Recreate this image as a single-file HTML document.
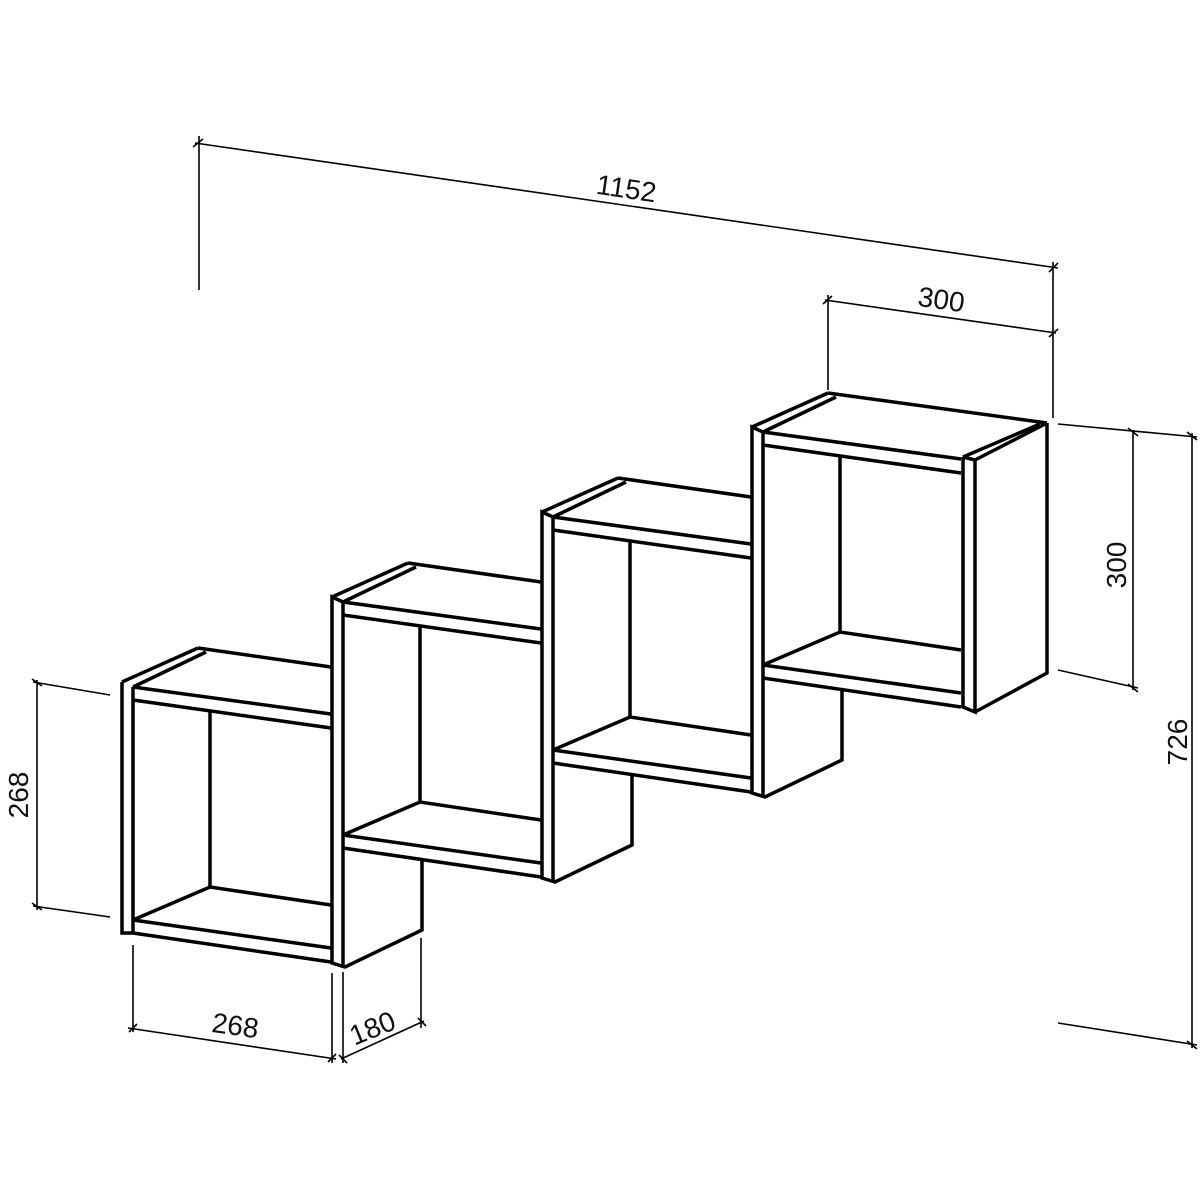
<!DOCTYPE html>
<html><head><meta charset="utf-8"><style>
html,body{margin:0;padding:0;background:#fff;}
svg{display:block;}
text{font-family:"Liberation Sans Narrow","Liberation Sans",sans-serif;font-size:28px;fill:#111;}
</style></head><body>
<svg width="1200" height="1200" viewBox="0 0 1200 1200" xmlns="http://www.w3.org/2000/svg">
<defs>
<g id="boxbase" fill="none" stroke="#000" stroke-width="3.5" stroke-linejoin="miter">
  <!-- top -->
  <line x1="122" y1="682" x2="198" y2="648"/>
  <line x1="133" y1="687" x2="206" y2="652"/>
  <line x1="133" y1="687" x2="331" y2="714"/>
  <line x1="133" y1="700" x2="331" y2="728"/>
  <!-- back vertical -->
  <line x1="210" y1="711" x2="210" y2="888"/>
  <!-- floor -->
  <polyline points="133,920 210,887 331,905"/>
  <line x1="133" y1="920" x2="331" y2="948"/>
  <line x1="133" y1="933" x2="331" y2="962"/>
</g>
</defs>

<!-- box 1 -->
<g fill="none" stroke="#000" stroke-width="3.5">
  <use href="#boxbase"/>
  <line x1="198" y1="648" x2="331" y2="667"/>
  <polyline points="122,682 122,933 133,933 133,687"/>
</g>
<!-- box 2 -->
<g transform="translate(210,-85)" fill="none" stroke="#000" stroke-width="3.5">
  <use href="#boxbase"/>
  <line x1="198" y1="648" x2="331" y2="667"/>
  <polyline points="133,687 122,682 122,1048 135,1052 212,1015 212,945"/>
  <line x1="133" y1="687" x2="133" y2="1052"/>
</g>
<!-- box 3 -->
<g transform="translate(420,-170)" fill="none" stroke="#000" stroke-width="3.5">
  <use href="#boxbase"/>
  <line x1="198" y1="648" x2="331" y2="667"/>
  <polyline points="133,687 122,682 122,1048 135,1052 212,1015 212,945"/>
  <line x1="133" y1="687" x2="133" y2="1052"/>
</g>
<!-- box 4 -->
<g transform="translate(630,-255)" fill="none" stroke="#000" stroke-width="3.5">
  <use href="#boxbase"/>
  <line x1="198" y1="648" x2="417" y2="678"/>
  <polyline points="133,687 122,682 122,1048 135,1052 212,1015 212,945"/>
  <line x1="133" y1="687" x2="133" y2="1052"/>
  <!-- right front panel and side -->
  <polyline points="333,712 333,962 345,967 345,715 333,712"/>
  <line x1="333" y1="712" x2="410" y2="679"/>
  <line x1="345" y1="715" x2="417" y2="678"/>
  <polyline points="345,967 417,928 417,678"/>
</g>

<!-- dimensions -->
<g stroke="#000" stroke-width="1.6" fill="none">
  <!-- 1152 -->
  <line x1="199" y1="136" x2="199" y2="290"/>
  <line x1="1053" y1="262" x2="1053" y2="418"/>
  <line x1="195" y1="143" x2="1058" y2="268"/>
  <line x1="193" y1="147" x2="203" y2="139"/>
  <line x1="1049" y1="272" x2="1058" y2="263"/>
  <!-- 300 top -->
  <line x1="828" y1="295" x2="828" y2="390"/>
  <line x1="825" y1="300" x2="1056" y2="333"/>
  <line x1="823" y1="304" x2="832" y2="296"/>
  <line x1="1049" y1="337" x2="1058" y2="329"/>
  <!-- right 300 & 726 -->
  <line x1="1058" y1="424" x2="1197" y2="437"/>
  <line x1="1058" y1="670" x2="1138" y2="688"/>
  <line x1="1058" y1="1023" x2="1197" y2="1045"/>
  <line x1="1133" y1="430" x2="1133" y2="690"/>
  <line x1="1192" y1="433" x2="1192" y2="1048"/>
  <line x1="1128" y1="428" x2="1138" y2="436"/>
  <line x1="1128" y1="684" x2="1138" y2="692"/>
  <line x1="1187" y1="432" x2="1197" y2="440"/>
  <line x1="1187" y1="1041" x2="1197" y2="1049"/>
  <!-- left 268 -->
  <line x1="33" y1="682" x2="110" y2="695"/>
  <line x1="33" y1="906" x2="110" y2="917"/>
  <line x1="37" y1="680" x2="37" y2="910"/>
  <line x1="32" y1="679" x2="42" y2="686"/>
  <line x1="32" y1="903" x2="42" y2="910"/>
  <!-- bottom 268 -->
  <line x1="133" y1="945" x2="133" y2="1032"/>
  <line x1="332" y1="973" x2="332" y2="1063"/>
  <line x1="128" y1="1028" x2="336" y2="1059"/>
  <line x1="129" y1="1032" x2="137" y2="1024"/>
  <line x1="328" y1="1062" x2="336" y2="1054"/>
  <!-- 180 -->
  <line x1="343" y1="972" x2="343" y2="1063"/>
  <line x1="421" y1="938" x2="421" y2="1028"/>
  <line x1="341" y1="1059" x2="424" y2="1021"/>
  <line x1="339" y1="1055" x2="347" y2="1063"/>
  <line x1="418" y1="1018" x2="426" y2="1026"/>
</g>

<g text-anchor="middle">
  <text transform="translate(625,198) rotate(8.3)">1152</text>
  <text transform="translate(940,309) rotate(8)">300</text>
  <text transform="translate(1126,565) rotate(-90)">300</text>
  <text transform="translate(1187,742) rotate(-90)">726</text>
  <text transform="translate(28,795) rotate(-90)">268</text>
  <text transform="translate(234,1035) rotate(8)">268</text>
  <text transform="translate(376,1037) rotate(-22)">180</text>
</g>
</svg>
</body></html>
